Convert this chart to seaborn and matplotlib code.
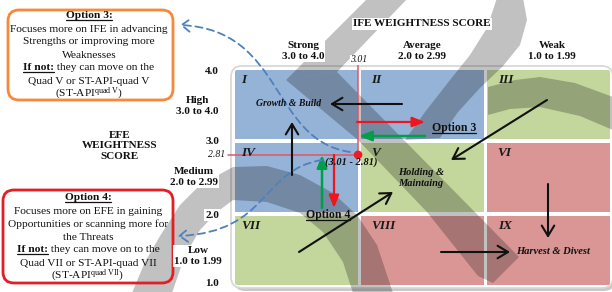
import numpy as np
import pandas as pd
import seaborn as sns
import matplotlib
matplotlib.use("Agg")
import matplotlib.pyplot as plt
from matplotlib.patches import Rectangle, FancyBboxPatch, Polygon, FancyArrowPatch
from matplotlib.path import Path
from matplotlib.transforms import Affine2D, IdentityTransform
from matplotlib.lines import Line2D

sns.set_theme(style="white")
plt.rcParams["font.family"] = ["Liberation Serif", "DejaVu Serif"]
plt.rcParams["mathtext.fontset"] = "custom"
plt.rcParams["mathtext.rm"] = "Liberation Serif"
plt.rcParams["mathtext.it"] = "Liberation Serif:italic"
plt.rcParams["mathtext.bf"] = "Liberation Serif:bold"

# ---------------- data ----------------
ife_edges = [4.0, 3.0, 2.0, 1.0]
efe_edges = [4.0, 3.0, 2.0, 1.0]
ife_headers = ["Strong\n3.0 to 4.0", "Average\n2.0 to 2.99", "Weak\n1.0 to 1.99"]
efe_headers = ["High\n3.0 to 4.0", "Medium\n2.0 to 2.99", "Low\n1.0 to 1.99"]
edge_labels = ["4.0", "3.0", "2.0", "1.0"]
cell_ids = [["I", "II", "III"], ["IV", "V", "VI"], ["VII", "VIII", "IX"]]
cell_strategy = [["grow", "grow", "hold"],
                 ["grow", "hold", "harvest"],
                 ["hold", "harvest", "harvest"]]
strategy_colors = {"grow": "#95B3D7", "hold": "#C3D69B", "harvest": "#D99694"}
firm_ife = [3.01]
firm_efe = [2.81]

# ---------------- layout helpers (pixel <-> score) ----------------
W, H = 612, 292
X0, XR, Y0, YB = 233, 612, 68, 287
XS = (XR - X0) / 3.0
YS = (YB - Y0) / 3.0


def sx(px):
    return 4 - (px - X0) / XS


def sy(py):
    return 4 - (py - Y0) / YS


def px_of(s):
    return X0 + (4 - s) * XS


def py_of(s):
    return Y0 + (4 - s) * YS


fig = plt.figure(figsize=(W / 100, H / 100), dpi=100)
ax = fig.add_axes([0, 0, 1, 1])
PX = Affine2D().scale(1, -1).translate(0, H)

# ---------------- frame ----------------
shadow = FancyBboxPatch((X0 + 1, Y0 + 1), XR - X0 + 2, YB - Y0 + 3,
                        boxstyle="round,pad=0,rounding_size=11", transform=PX,
                        fc="#c8c8c8", ec="none", zorder=0.5)
ax.add_patch(shadow)
frame = FancyBboxPatch((X0 - 2, Y0 - 2), XR - X0 + 3, YB - Y0 + 3,
                       boxstyle="round,pad=0,rounding_size=11", transform=PX,
                       fc="white", ec="#d6d6d6", lw=1.2, zorder=0.6)
ax.add_patch(frame)
clip = FancyBboxPatch((X0, Y0), XR - X0, YB - Y0,
                      boxstyle="round,pad=0,rounding_size=10", transform=PX,
                      fc="none", ec="none")
ax.add_patch(clip)

gx, gy = 1.6 / XS, 1.6 / YS
for i in range(3):
    for j in range(3):
        xl = ife_edges[j + 1]
        yl = efe_edges[i + 1]
        r = Rectangle((xl + gx, yl + gy), 1 - 2 * gx, 1 - 2 * gy,
                      fc=strategy_colors[cell_strategy[i][j]], ec="none", zorder=1)
        ax.add_patch(r)
        r.set_clip_path(clip)
        off = 8 if j == 0 else 12
        ax.text(sx(px_of(ife_edges[j]) + off), sy(py_of(efe_edges[i]) + 12), cell_ids[i][j],
                fontsize=9.5, fontweight="bold", style="italic", ha="left", va="center",
                zorder=6, color="#1a1a1a")

# ---------------- watermark ----------------
wm_color = "k"
wm_alpha = 0.27
shapes = [
    [(286, 80), (368, -2), (408, -2), (337, 72)],
    [(286, 80), (337, 72), (519, 257), (493, 283), (478, 276), (427, 212), (358, 140)],
    [(497, -2), (523, -2), (527, 20), (520, 45), (503, 66), (480, 88), (458, 112),
     (440, 138), (405, 140), (425, 112), (450, 80), (470, 55), (487, 28)],
    [(488, 87), (515, 80), (540, 77), (575, 83), (613, 97), (613, 130), (580, 116),
     (540, 107), (510, 109), (488, 115)],
    [(132, 293), (145, 262), (160, 236), (180, 205), (200, 185), (233, 167), (267, 166),
     (300, 175), (333, 193), (357, 215), (377, 245), (393, 293),
     (353, 293), (343, 262), (323, 232), (300, 213), (267, 202), (233, 200),
     (217, 212), (200, 230), (185, 255), (172, 293)],
]
for pts in shapes:
    ax.add_patch(Polygon(pts, closed=True, transform=PX, fc=wm_color, alpha=wm_alpha,
                         lw=0, zorder=2))

# ---------------- firm position guides ----------------
guide_c = "#e2546a"
ax.plot([firm_ife[0], firm_ife[0]], [sy(61), firm_efe[0]], color=guide_c, lw=1.1, zorder=4)
ax.plot([sx(228), firm_ife[0]], [firm_efe[0], firm_efe[0]], color=guide_c, lw=1.1, zorder=4)
sns.scatterplot(x=firm_ife, y=firm_efe, ax=ax, color="#ee1c25", s=38, edgecolor="none",
                legend=False, zorder=7)

# ---------------- arrows ----------------
def arrow(p0, p1, color, style, lw):
    a = FancyArrowPatch((sx(p0[0]), sy(p0[1])), (sx(p1[0]), sy(p1[1])),
                        arrowstyle=style, mutation_scale=10, color=color, lw=lw,
                        shrinkA=0, shrinkB=0, zorder=5)
    ax.add_patch(a)


black_style = "->,head_length=0.75,head_width=0.45"
for p0, p1 in [((402, 104), (330, 104)), ((292, 175), (292, 122)),
               ((547, 100), (451, 160)), ((299, 252), (393, 192)),
               ((548, 184), (548, 238)), ((441, 252), (510, 252))]:
    arrow(p0, p1, "#111111", black_style, 1.5)

fill_style = "-|>,head_length=0.75,head_width=0.3"
arrow((357, 122), (425, 122), "#f0141e", fill_style, 1.6)
arrow((334, 155), (334, 208), "#f0141e", fill_style, 1.6)
arrow((425, 136), (359, 136), "#00a04a", fill_style, 1.8)
arrow((322, 208), (322, 155), "#00a04a", fill_style, 1.8)

blue = "#4F81BD"
for verts in [[(350, 152), (270, 140), (285, 30), (180, 25)],
              [(322, 160), (260, 170), (270, 232), (178, 236)]]:
    path = Path(verts, [Path.MOVETO, Path.CURVE4, Path.CURVE4, Path.CURVE4])
    fa = FancyArrowPatch(path=path, arrowstyle="->,head_length=0.6,head_width=0.45",
                         mutation_scale=10, color=blue, lw=1.3, linestyle=(0, (4, 2.5)),
                         transform=PX, zorder=5)
    ax.add_patch(fa)

# ---------------- text ----------------
def T(x, y, s, **kw):
    kw.setdefault("ha", "center")
    kw.setdefault("va", "center")
    kw.setdefault("zorder", 8)
    kw.setdefault("color", "#111111")
    return ax.text(x, y, s, transform=PX, **kw)


wbox = dict(boxstyle="square,pad=0.1", fc="white", ec="none")
T(422, 24, "IFE WEIGHTNESS SCORE", fontsize=8, fontweight="bold", bbox=wbox)
for x, s in zip([303, 422, 552], ife_headers):
    T(x, 51, s, fontsize=8, fontweight="bold", linespacing=1.15, bbox=wbox)
T(px_of(firm_ife[0]) + 1, 60, f"{firm_ife[0]:.2f}", fontsize=7, style="italic", bbox=wbox)

for y, s in zip([72, 141, 215, 284], edge_labels):
    T(212, y, s, fontsize=8, fontweight="bold", bbox=wbox)
for (x, y), s in zip([(197, 106), (194, 177), (198, 256)], efe_headers):
    T(x, y, s, fontsize=8, fontweight="bold", linespacing=1.15, bbox=wbox)
T(217, py_of(firm_efe[0]), f"{firm_efe[0]:.2f}", fontsize=7, style="italic", bbox=wbox)
T(120, 146, "EFE\nWEIGHTNESS\nSCORE", fontsize=8, fontweight="bold", linespacing=1.2)

T(289, 104, "Growth & Build", fontsize=7, fontweight="bold", style="italic")
T(398, 178, "Holding &\nMaintaing", fontsize=7.5, fontweight="bold", style="italic",
  ha="left", linespacing=1.25)
T(516, 252, "Harvest & Divest", fontsize=7.6, fontweight="bold", style="italic", ha="left")
T(351, 162, f"({firm_ife[0]:.2f} - {firm_efe[0]:.2f})", fontsize=7.5, fontweight="bold",
  style="italic")

underlined = []
underlined.append(T(432, 128, "Option 3", fontsize=8.5, fontweight="bold", ha="left"))
underlined.append(T(328, 215, "Option 4", fontsize=8.5, fontweight="bold"))

# option boxes
ax.add_patch(FancyBboxPatch((8, 10), 165, 90, boxstyle="round,pad=0,rounding_size=11",
                            transform=PX, fc="none", ec="#F7893B", lw=2.0, zorder=7))
ax.add_patch(FancyBboxPatch((3, 190), 170, 93, boxstyle="round,pad=0,rounding_size=11",
                            transform=PX, fc="none", ec="#E31E24", lw=2.0, zorder=7))

mixed = []
box_lines = [
    (89, [16, 29, 42, 55, 68, 81, 94],
     ["Option 3:", "Focuses more on IFE in advancing", "Strengths or improving more",
      "Weaknesses", None, "Quad V or ST-API-quad V", r"(ST-API$^{\mathrm{quad\ V}}$)"],
     " they can move on the"),
    (88, [198, 211, 224, 237, 250, 263, 276],
     ["Option 4:", "Focuses more on EFE in gaining", "Opportunities or scanning more for",
      "the Threats", None, "Quad VII or ST-API-quad VII", r"(ST-API$^{\mathrm{quad\ VII}}$)"],
     " they can move on to the"),
]
for cx, ys, lines, rest in box_lines:
    for k, (y, s) in enumerate(zip(ys, lines)):
        if s is None:
            a = T(cx, y, "If not:", fontsize=8.2, fontweight="bold", ha="left")
            b = T(cx, y, rest, fontsize=8.2, ha="left")
            mixed.append((cx, a, b))
        elif k == 0:
            underlined.append(T(cx, y, s, fontsize=8.2, fontweight="bold"))
        else:
            T(cx, y, s, fontsize=8.2)

ax.set_xlim(sx(0), sx(W))
ax.set_ylim(sy(H), sy(0))
ax.axis("off")

fig.canvas.draw()
r = fig.canvas.get_renderer()
for cx, a, b in mixed:
    wa = a.get_window_extent(r).width
    wb = b.get_window_extent(r).width
    left = cx - (wa + wb) / 2
    ya = a.get_position()[1]
    a.set_position((left, ya))
    b.set_position((left + wa, ya))
    underlined.append(a)
fig.canvas.draw()
for t in underlined:
    bb = t.get_window_extent(r)
    yl = bb.y0 + 1.0
    ax.add_line(Line2D([bb.x0, bb.x1], [yl, yl], transform=IdentityTransform(),
                       color="#111111", lw=0.9, zorder=9))

fig.savefig("out.png", dpi=100)
